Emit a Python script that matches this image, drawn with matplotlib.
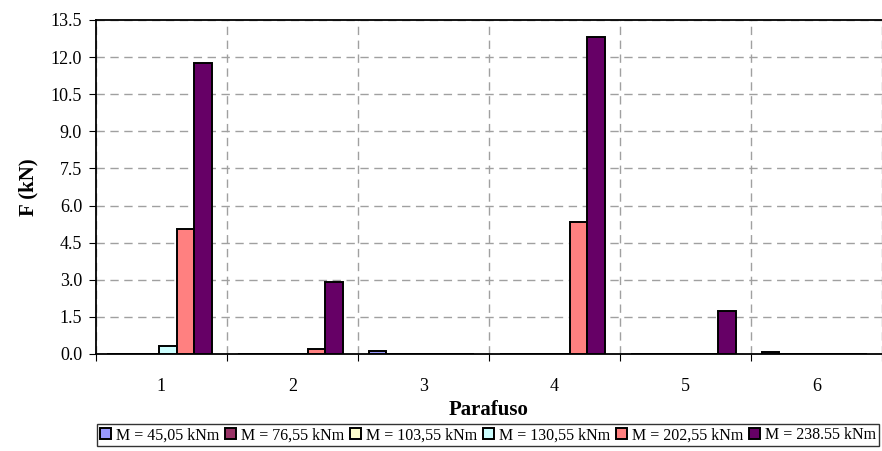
import numpy as np
import matplotlib.pyplot as plt

plt.rcParams['font.family'] = ['Liberation Serif', 'DejaVu Serif']

parafusos = ["1", "2", "3", "4", "5", "6"]
series_labels = ["M = 45,05 kNm", "M = 76,55 kNm", "M = 103,55 kNm",
                 "M = 130,55 kNm", "M = 202,55 kNm", "M = 238.55 kNm"]
colors = ["#9999FF", "#993366", "#FFFFCC", "#CCFFFF", "#FF8080", "#660066"]

# forca em cada parafuso (kN) para cada momento
F_45 = [0.0, 0.0, 0.13, 0.0, 0.0, 0.08]
F_76 = [0.0, 0.0, 0.0, 0.0, 0.0, 0.0]
F_103 = [0.0, 0.0, 0.0, 0.0, 0.0, 0.0]
F_130 = [0.32, 0.0, 0.0, 0.0, 0.0, 0.0]
F_202 = [5.05, 0.20, 0.0, 5.33, 0.0, 0.0]
F_238 = [11.76, 2.91, 0.0, 12.83, 1.75, 0.0]
dados = [F_45, F_76, F_103, F_130, F_202, F_238]

fig = plt.figure(figsize=(8.82, 4.51), dpi=100)
ax = fig.add_axes([0.1088, 0.2151, 0.891, 0.7406])

x = np.arange(len(parafusos))
w = 0.1335
inicio = -0.5 + 0.084 + w / 2
handles = []
for j, (vals, lab, c) in enumerate(zip(dados, series_labels, colors)):
    h = ax.bar(x + inicio + j * w, vals, width=w, color=c, edgecolor="black",
               linewidth=1.4, label=lab, zorder=3)
    handles.append(h)

ax.set_xlim(-0.5, 5.5)
ax.set_ylim(0, 13.5)
ax.set_yticks(np.arange(0, 13.6, 1.5))
ax.set_yticklabels([f"{v:.1f}" for v in np.arange(0, 13.6, 1.5)], fontsize=13)

# linhas de grade verticais nos limites de cada grupo
ax.set_xticks(np.arange(-0.5, 6, 1))
ax.set_xticklabels([])
ax.set_xticks(x, minor=True)
ax.set_xticklabels(parafusos, minor=True, fontsize=13)
ax.tick_params(axis="x", which="minor", length=0, pad=17)
ax.tick_params(axis="x", which="major", length=5, direction="out")
ax.tick_params(axis="y", length=5, direction="out", pad=5)
ax.grid(True, which="major", axis="both", color="#a0a0a0", linestyle=(0, (6, 4)),
        linewidth=1.0, zorder=0)

ax.spines["right"].set_visible(False)
for s in ["left", "bottom", "top"]:
    ax.spines[s].set_linewidth(1.3)
    ax.spines[s].set_color("black")

ax.set_ylabel("F (kN)", fontsize=15, fontweight="bold", labelpad=9)
ax.set_xlabel("Parafuso", fontsize=15, fontweight="bold", labelpad=4)

leg = fig.legend(handles=handles, loc="lower left", bbox_to_anchor=(0.110, 0.010, 0.887, 0.042),
                 mode="expand", ncol=6, fontsize=11.5, frameon=True, fancybox=False,
                 handlelength=0.7, handleheight=0.7, handletextpad=0.3,
                 columnspacing=0.5, borderpad=0.2, borderaxespad=0)
leg.get_frame().set_edgecolor("black")
leg.get_frame().set_linewidth(1.0)

fig.savefig("out.png", dpi=100)
